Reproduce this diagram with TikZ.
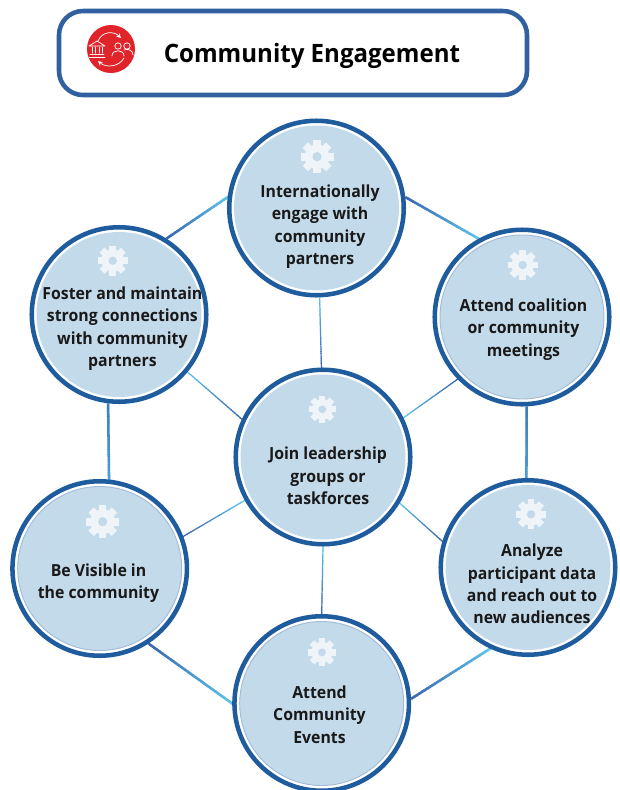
\documentclass[tikz,border=0pt]{standalone}
\usepackage{fontspec}
\setmainfont[FakeStretch=0.95]{Open Sans}
\usetikzlibrary{calc}
\pgfdeclarelayer{bg}
\pgfsetlayers{bg,main}
\definecolor{ringblue}{HTML}{1F5C9E}
\definecolor{discblue}{HTML}{C3DAEA}
\definecolor{edgeblue}{HTML}{A3BBD6}
\definecolor{linkdark}{HTML}{3A66B0}
\definecolor{linklight}{HTML}{5CC3EA}
\definecolor{vertdark}{HTML}{3A7EC4}
\definecolor{vertlight}{HTML}{4A9EDC}
\definecolor{headblue}{HTML}{30609F}
\definecolor{iconred}{HTML}{E1242A}
\definecolor{gearwhite}{HTML}{EEF4F8}
\tikzset{
  x=0.75pt,y=-0.75pt,
  hub/.style={circle,draw=ringblue,line width=3.4pt,fill=white,minimum size=174.5*0.75pt,inner sep=0pt,
    path picture={\fill[discblue,draw=#1,line width=0.7pt] (path picture bounding box.center) circle (82*0.75pt);}},
  hub/.default=discblue,
  label text/.style={align=center,font=\fontsize{12.5pt}{16.8pt}\selectfont\bfseries,text=black!90,inner sep=0pt},
  iconline/.style={white,line width=0.55pt,line cap=round,line join=round},
}
% gradient connector: #1 width, #2 start, #3 end, #4 start colour, #5 end colour
\newcommand{\gradlink}[5]{%
  \begin{pgfonlayer}{bg}
  \foreach \i in {0,...,29}{%
    \pgfmathsetmacro{\p}{100*\i/29}%
    \pgfmathsetmacro{\ta}{\i/30}%
    \pgfmathsetmacro{\tb}{(\i+1.3)/30}%
    \draw[line width=#1,color=#5!\p!#4] ($(#2)!\ta!(#3)$) -- ($(#2)!\tb!(#3)$);
  }%
  \end{pgfonlayer}}
\newcommand{\gearicon}[3]{%
  \begin{scope}[shift={(#1,#2)}]
    \foreach \a in {0,45,...,315}{\fill[gearwhite,rotate=\a] (-0.23*#3,-#3) rectangle (0.23*#3,0);}
    \fill[gearwhite] (0,0) circle (0.75*#3*0.75pt);
    \fill[discblue] (0,0) circle (0.28*#3*0.75pt);
  \end{scope}}
\begin{document}
\begin{tikzpicture}
\useasboundingbox (0,0) rectangle (620,790);
\begin{pgfonlayer}{bg}
\fill[white] (0,0) rectangle (620,790);
\end{pgfonlayer}
% header
\node[draw=headblue,line width=3.4pt,rounded corners=18pt,minimum width=468*0.75pt,minimum height=84*0.75pt,inner sep=0pt,fill=white] (header) at (293,53) {};
\node[inner sep=0pt,font=\fontsize{19pt}{23pt}\selectfont\bfseries,text=black] (title) at (312,56) {Community Engagement};
% icon
\node[circle,fill=iconred,minimum size=48*0.75pt,inner sep=0pt] (icon) at (111,49) {};
\begin{scope}[shift={(111,49)}]
  \draw[iconline] (-22,-3) -- (-14,-8) -- (-6,-3) -- cycle;
  \draw[iconline] (-21,5) -- (-7,5) (-22,8) -- (-6,8);
  \draw[iconline] (-19,-2) -- (-19,4) (-16,-2) -- (-16,4) (-12,-2) -- (-12,4) (-9,-2) -- (-9,4);
  \draw[iconline] (7,-3) circle (3.2*0.75pt);
  \draw[iconline] (16,-3) circle (3.2*0.75pt);
  \draw[iconline] (1,7) .. controls (1,0) and (13,0) .. (13,7);
  \draw[iconline] (13,1) .. controls (18,-1) and (22,2) .. (22,6);
  \draw[iconline,->,>=stealth] (-13,-8) .. controls (-9,-18) and (3,-18) .. (10,-11);
  \draw[iconline,->,>=stealth] (13,9) .. controls (8,18) and (-5,19) .. (-13,12);
\end{scope}
% circles
\node[hub] (top) at (316.5,208) {};
\node[hub=edgeblue] (rtop) at (522,317) {};
\node[hub] (ltop) at (119,314.5) {};
\node[hub] (mid) at (323,457) {};
\node[hub=edgeblue] (lbot) at (99.7,568.5) {};
\node[hub] (rbot) at (528,567.5) {};
\node[hub=edgeblue] (bot) at (321.7,703.5) {};
% connectors
\gradlink{1.9pt}{ltop.58.4}{top.173}{linkdark}{linklight}
\gradlink{1.9pt}{top.7.8}{rtop.119.5}{linkdark}{linklight}
\gradlink{1.9pt}{lbot.-57}{bot.180}{linkdark}{linklight}
\gradlink{1.9pt}{bot.3.5}{rbot.-115}{linkdark}{linklight}
\gradlink{1.9pt}{ltop.-97}{lbot.84}{vertdark}{vertlight}
\gradlink{1.9pt}{rtop.-87}{rbot.91}{vertdark}{vertlight}
\gradlink{0.9pt}{top.-88}{mid.91.5}{linklight}{linkdark}
\gradlink{0.9pt}{ltop.-40}{mid.155.8}{linklight}{linkdark}
\gradlink{0.9pt}{mid.26.6}{rtop.224}{linklight}{linkdark}
\gradlink{0.9pt}{mid.209.5}{lbot.21}{linklight}{linkdark}
\gradlink{0.9pt}{mid.-31.6}{rbot.163}{linklight}{linkdark}
\gradlink{0.9pt}{mid.270}{bot.90}{linklight}{linkdark}
% gears
\gearicon{317}{156.7}{16.5}
\gearicon{522.7}{265}{15}
\gearicon{112.7}{260.7}{15}
\gearicon{322.3}{409.3}{13.7}
\gearicon{102.7}{521.7}{16.5}
\gearicon{531}{514.3}{15}
\gearicon{322}{652.3}{14}
% text
\node[label text] (ttop) at (320,226.5) {Internationally\\engage with\\community\\partners};
\node[label text] (trtop) at (523.5,329.5) {Attend coalition\\or community\\meetings};
\node[label text] (tltop) at (122.4,328.5) {Foster and maintain\\strong connections\\with community\\partners};
\node[label text] (tmid) at (328,476) {Join leadership\\groups or\\taskforces};
\node[label text] (tlbot) at (98.5,583) {Be Visible in\\the community};
\node[label text] (trbot) at (532,584) {Analyze\\participant data\\and reach out to\\new audiences};
\node[label text] (tbot) at (319.5,714.5) {Attend\\Community\\Events};
\end{tikzpicture}
\end{document}
